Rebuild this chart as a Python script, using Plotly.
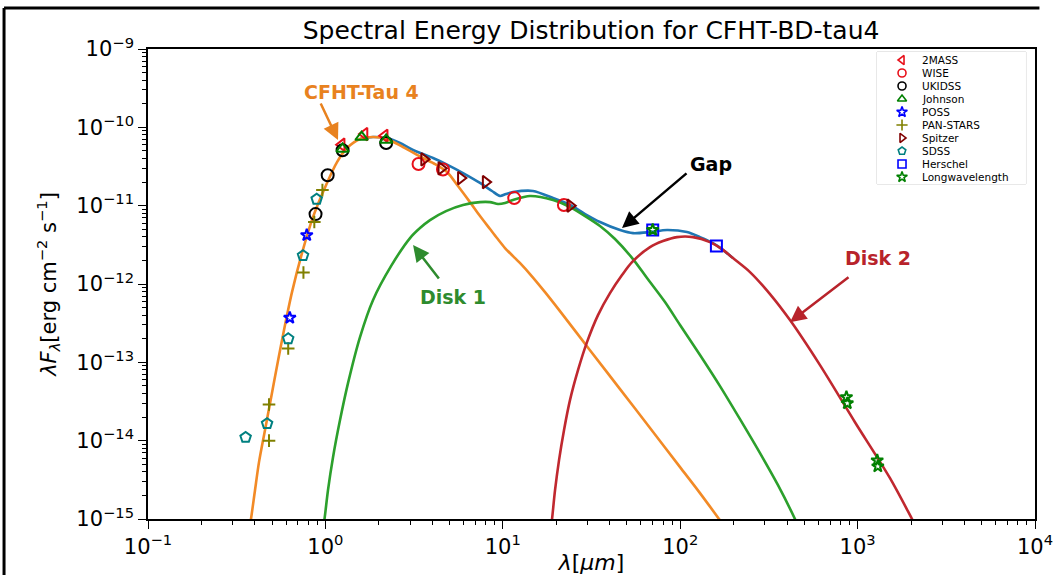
import plotly.graph_objects as go

# ---------------- model curves (wavelength in micron, lambda*F_lambda in erg cm^-2 s^-1)
star_wl = [0.371, 0.3806, 0.401, 0.4224, 0.4565, 0.4936, 0.5404, 0.592, 0.6482, 0.738, 0.851,
           1.021, 1.163, 1.324, 1.567, 1.854, 2.223, 2.738, 3.55, 4.15, 4.85, 5.59, 6.53, 7.44,
           8.47, 9.27, 10.29, 11.42, 12.67, 14.23, 17.3, 21.0, 31.0, 45.8, 67.6, 99.8, 129.3,
           165.5, 183.6]
star_f = [7.2e-16, 1.0e-15, 2.33e-15, 5.32e-15, 1.36e-14, 3.49e-14, 1.04e-13, 2.99e-13, 7.88e-13,
          2.48e-12, 7.15e-12, 1.95e-11, 3.6e-11, 5.44e-11, 7.1e-11, 7.52e-11, 7.1e-11, 5.6e-11,
          4.06e-11, 3.4e-11, 2.69e-11, 1.78e-11, 1.11e-11, 7.36e-12, 5.03e-12, 3.86e-12, 2.88e-12,
          2.27e-12, 1.79e-12, 1.34e-12, 7.88e-13, 4.51e-13, 1.43e-13, 4.55e-14, 1.45e-14, 4.59e-15,
          2.14e-15, 1.0e-15, 7.2e-16]

disk1_wl = [0.957, 0.9886, 1.034, 1.104, 1.209, 1.341, 1.567, 1.854, 2.344, 2.999, 3.414, 3.888,
            4.785, 5.966, 7.44, 8.47, 9.40, 10.29, 11.42, 14.23, 19.19, 23.9, 29.1, 35.3, 42.9,
            54.2, 65.0, 82.1, 99.8, 129.3, 167.6, 217.3, 281.8, 355.9, 443.7, 473.5]
disk1_f = [6.21e-16, 1.0e-15, 2.33e-15, 6.15e-15, 1.83e-14, 5.42e-14, 2.1e-13, 6.22e-13, 1.69e-12,
           3.86e-12, 5.18e-12, 6.55e-12, 8.53e-12, 1.02e-11, 1.11e-11, 1.11e-11, 1.05e-11, 1.08e-11,
           1.18e-11, 1.33e-11, 1.18e-11, 9.6e-12, 7.36e-12, 5.5e-12, 3.75e-12, 2.08e-12, 1.19e-12,
           5.88e-13, 2.99e-13, 1.24e-13, 4.97e-14, 1.88e-14, 6.92e-15, 2.7e-15, 1.0e-15, 7.2e-16]

disk2_wl = [18.46, 18.95, 19.7, 20.75, 22.13, 23.92, 26.54, 29.83, 34.4, 40.2, 47.0, 53.5, 67.6,
            80.0, 95.9, 118.1, 147.2, 172, 198.4, 247.4, 320.8, 415.8, 613.8, 966.7, 1523, 2027,
            2190]
disk2_f = [6.21e-16, 1.0e-15, 2.33e-15, 5.64e-15, 1.36e-14, 3.29e-14, 7.94e-14, 1.81e-13, 4.01e-13,
           7.65e-13, 1.3e-12, 1.9e-12, 2.96e-12, 3.53e-12, 3.97e-12, 3.97e-12, 3.43e-12, 2.79e-12,
           2.14e-12, 1.42e-12, 7.43e-13, 3.46e-13, 9.2e-14, 1.72e-14, 3.32e-15, 1.0e-15, 7.2e-16]

total_wl = [1.567, 1.854, 2.223, 2.634, 3.117, 4.042, 4.91, 5.966, 7.44, 8.69, 9.64, 10.42, 11.42,
            14.8, 19.19, 23.92, 29.1, 35.3, 45.8, 54.2, 67.6, 84.3, 109.2, 129.3, 153.1, 172,
            198.4]
total_f = [7.1e-11, 7.52e-11, 7.29e-11, 6.31e-11, 5.13e-11, 4.06e-11, 3.3e-11, 2.61e-11, 1.95e-11,
           1.54e-11, 1.33e-11, 1.41e-11, 1.49e-11, 1.54e-11, 1.25e-11, 1.02e-11, 7.82e-12,
           6.18e-12, 4.88e-12, 4.46e-12, 4.6e-12, 4.88e-12, 4.6e-12, 3.97e-12, 3.33e-12, 2.79e-12,
           2.14e-12]

# ---------------- photometry
tmass_wl = [1.235, 1.662, 2.159]
tmass_f = [6.0e-11, 8.2e-11, 7.8e-11]

wise_wl = [3.35, 4.6, 11.6, 22.1]
wise_f = [3.4e-11, 2.9e-11, 1.25e-11, 1.02e-11]

ukidss_wl = [0.88, 1.03, 1.25, 2.2]
ukidss_f = [7.8e-12, 2.45e-11, 5.1e-11, 6.3e-11]

johnson_wl = [1.25, 1.6, 2.2]
johnson_f = [5.3e-11, 7.5e-11, 6.9e-11]

poss_wl = [0.63, 0.785]
poss_f = [3.7e-13, 4.2e-12]

panstars_wl = [0.481, 0.481, 0.617, 0.752, 0.866, 0.962]
panstars_f = [2.9e-14, 1.0e-14, 1.5e-13, 1.4e-12, 6.2e-12, 1.58e-11]

spitzer_wl = [3.6, 4.5, 5.8, 8.0, 24.0]
spitzer_f = [3.9e-11, 3.0e-11, 2.25e-11, 2.0e-11, 1.0e-11]

sdss_wl = [0.355, 0.469, 0.617, 0.748, 0.893]
sdss_f = [1.1e-14, 1.65e-14, 2.0e-13, 2.3e-12, 1.21e-11]

herschel_wl = [70, 160]
herschel_f = [4.9e-12, 3.05e-12]

longwl_wl = [70, 865, 875, 1290, 1300]
longwl_f = [4.9e-12, 3.6e-14, 3.0e-14, 5.6e-15, 4.7e-15]

x_tick_vals = [1e-1, 1e0, 1e1, 1e2, 1e3, 1e4]
x_tick_text = ["10<sup>−1</sup>", "10<sup>0</sup>", "10<sup>1</sup>", "10<sup>2</sup>",
               "10<sup>3</sup>", "10<sup>4</sup>"]
y_tick_vals = [1e-15, 1e-14, 1e-13, 1e-12, 1e-11, 1e-10, 1e-9]
y_tick_text = ["10<sup>−15</sup>", "10<sup>−14</sup>", "10<sup>−13</sup>", "10<sup>−12</sup>",
               "10<sup>−11</sup>", "10<sup>−10</sup>", "10<sup>−9</sup>"]

ORANGE = "#f28a26"
GREEN = "#2ca02c"
RED = "#c0282f"
BLUE = "#1f77b4"
FONT = "DejaVu Sans"

fig = go.Figure()

# curves: total first so the components sit on top of it
curve_specs = [
    (total_wl, total_f, BLUE),
    (star_wl, star_f, ORANGE),
    (disk1_wl, disk1_f, GREEN),
    (disk2_wl, disk2_f, RED),
]
for wl, fl, col in curve_specs:
    fig.add_trace(go.Scatter(x=wl, y=fl, mode="lines", showlegend=False, hoverinfo="skip",
                             line=dict(color=col, width=2.6, shape="spline", smoothing=0.8)))

# name, wavelengths, fluxes, symbol, colour, size on plot
phot_specs = [
    ("2MASS", tmass_wl, tmass_f, "triangle-left-open", "#e8101a", 11),
    ("WISE", wise_wl, wise_f, "circle-open", "#e8101a", 12),
    ("UKIDSS", ukidss_wl, ukidss_f, "circle-open", "black", 12),
    ("Johnson", johnson_wl, johnson_f, "triangle-up-open", "#008000", 11),
    ("POSS", poss_wl, poss_f, "star-open", "#0000ff", 9),
    ("PAN-STARS", panstars_wl, panstars_f, "cross-thin-open", "#808000", 9),
    ("Spitzer", spitzer_wl, spitzer_f, "triangle-right-open", "#800000", 11),
    ("SDSS", sdss_wl, sdss_f, "pentagon-open", "#008080", 11),
    ("Herschel", herschel_wl, herschel_f, "square-open", "#0000ff", 11),
    ("Longwavelength", longwl_wl, longwl_f, "star-open", "#008000", 9),
]
for name, wl, fl, sym, col, size in phot_specs:
    fig.add_trace(go.Scatter(x=wl, y=fl, mode="markers", name=name, showlegend=False,
                             marker=dict(symbol=sym, size=size, color=col,
                                         line=dict(color=col, width=2))))

# ---------------- legend box (compact, drawn in an inset axis)
leg_x0, leg_x1, leg_y0, leg_y1 = 0.8219, 0.9898, 0.7128, 0.9936
fig.add_shape(type="rect", xref="paper", yref="paper", x0=leg_x0, x1=leg_x1, y0=leg_y0, y1=leg_y1,
              line=dict(color="#cfcfcf", width=1), fillcolor="white", layer="below")
row_step = 13
for i, (name, wl, fl, sym, col, size) in enumerate(phot_specs):
    row_y = -(8 + row_step * i)
    fig.add_trace(go.Scatter(x=[25], y=[row_y], xaxis="x2", yaxis="y2", mode="markers",
                             showlegend=False, hoverinfo="skip",
                             marker=dict(symbol=sym, size=8, color=col,
                                         line=dict(color=col, width=1.6))))
    fig.add_annotation(x=43, y=row_y, xref="x2", yref="y2", text=name, showarrow=False,
                       xanchor="left", yanchor="middle",
                       font=dict(family=FONT, size=10.5, color="black"))

minor_x = [m * 10 ** k for k in range(-1, 4) for m in range(2, 10)]
minor_y = [m * 10.0 ** k for k in range(-15, -9) for m in range(2, 10)]

axis_common = dict(type="log", showgrid=False, zeroline=False, showline=True, mirror=True,
                   linecolor="black", linewidth=1.6, ticks="outside", ticklen=8, tickwidth=1.3,
                   tickcolor="black", automargin=False,
                   tickfont=dict(family=FONT, size=21, color="black"))

xaxis_main = dict(range=[-1, 4], tickmode="array", tickvals=x_tick_vals, ticktext=x_tick_text,
                  minor=dict(tickmode="array", tickvals=minor_x, ticks="outside", ticklen=4,
                             tickwidth=1, tickcolor="black"),
                  title=dict(text="<i>λ</i>[<i>μm</i>]", standoff=2,
                             font=dict(family=FONT, size=22, color="black")),
                  **axis_common)
yaxis_main = dict(range=[-15, -9], tickmode="array", tickvals=y_tick_vals, ticktext=y_tick_text,
                  minor=dict(tickmode="array", tickvals=minor_y, ticks="outside", ticklen=4,
                             tickwidth=1, tickcolor="black"),
                  title=dict(text="<i>λF<sub>λ</sub></i>[erg cm<sup>−2</sup> s<sup>−1</sup>]",
                             standoff=14,
                             font=dict(family=FONT, size=21, color="black")),
                  **axis_common)

label_bold = dict(family=FONT, size=19)
annotations = [
    # curve labels
    dict(x=0.2007, y=-9.549, text="<b>CFHT-Tau 4</b>", showarrow=False,
         font=dict(color="#e8821f", **label_bold)),
    dict(x=2.174, y=-10.469, text="<b>Gap</b>", showarrow=False,
         font=dict(color="black", **label_bold)),
    dict(x=0.719, y=-12.167, text="<b>Disk 1</b>", showarrow=False,
         font=dict(color="#2e8b2e", **label_bold)),
    dict(x=3.115, y=-11.669, text="<b>Disk 2</b>", showarrow=False,
         font=dict(color="#b8232b", **label_bold)),
    # pointers
    dict(x=0.071, y=-10.162, ax=-18, ay=-38, text="", showarrow=True, arrowhead=2,
         arrowsize=1.3, arrowwidth=2.5, arrowcolor="#e8821f"),
    dict(x=1.672, y=-11.286, ax=66, ay=-56, text="", showarrow=True, arrowhead=2,
         arrowsize=1.3, arrowwidth=2.5, arrowcolor="black"),
    dict(x=0.494, y=-11.503, ax=27, ay=35, text="", showarrow=True, arrowhead=2,
         arrowsize=1.3, arrowwidth=2.5, arrowcolor="#2e8b2e"),
    dict(x=2.619, y=-12.487, ax=60, ay=-46, text="", showarrow=True, arrowhead=2,
         arrowsize=1.3, arrowwidth=2.5, arrowcolor="#b8232b"),
]
for a in annotations:
    fig.add_annotation(xref="x", yref="y", **a)

# frame around the whole figure
fig.add_shape(type="line", xref="paper", yref="paper", x0=-0.1623, x1=-0.1623, y0=-0.2, y1=1.087,
              line=dict(color="black", width=3))
fig.add_shape(type="line", xref="paper", yref="paper", x0=-0.1623, x1=1.005, y0=1.087, y1=1.087,
              line=dict(color="black", width=3))

fig.update_layout(
    width=1064, height=575,
    margin=dict(l=148, r=29, t=49, b=56),
    paper_bgcolor="white", plot_bgcolor="white",
    xaxis=xaxis_main,
    yaxis=yaxis_main,
    xaxis2=dict(domain=[leg_x0, leg_x1], range=[0, 149], visible=False, anchor="y2",
                fixedrange=True),
    yaxis2=dict(domain=[leg_y0, leg_y1], range=[-132, 0], visible=False, anchor="x2",
                fixedrange=True),
    title=dict(text="Spectral Energy Distribution for CFHT-BD-tau4", x=0.5555, xanchor="center",
               y=1 - 30 / 575, yanchor="middle",
               font=dict(family=FONT, size=25, color="black")),
    showlegend=False,
)

fig.write_html("out.html")
